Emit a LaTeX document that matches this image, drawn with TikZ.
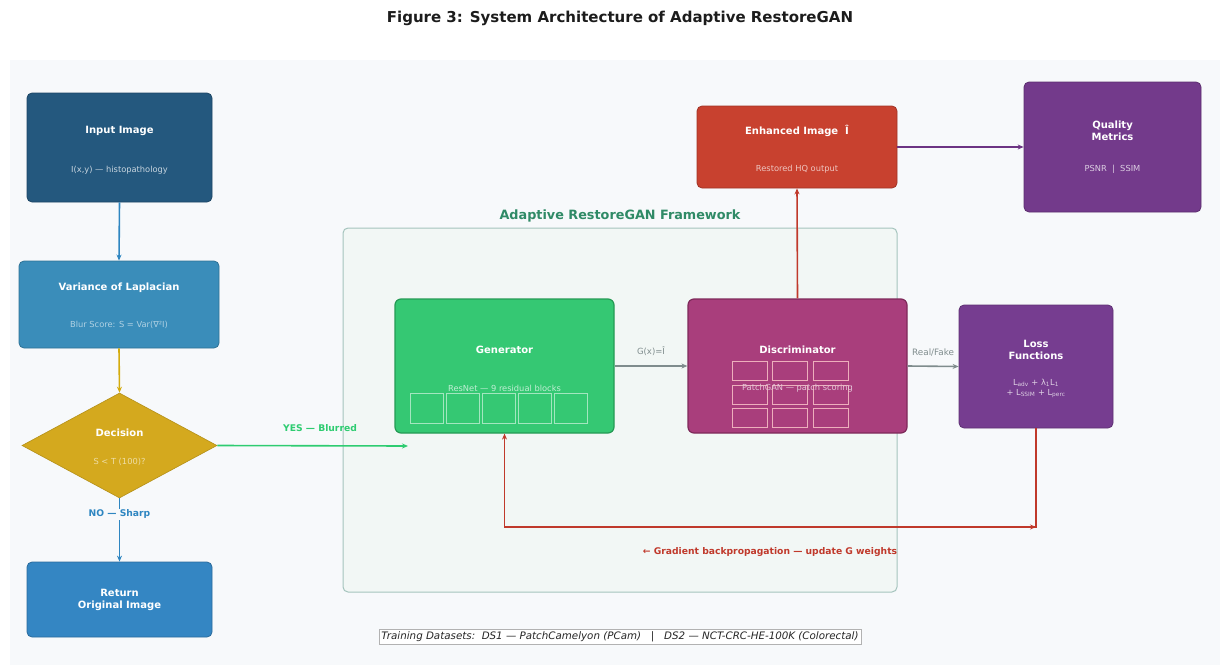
\documentclass[tikz,border=0pt]{standalone}
\usepackage{fontspec}
\setmainfont{DejaVu Sans}
\usetikzlibrary{shapes.geometric,arrows.meta}
\definecolor{bgc}{HTML}{F7F9FB}
\definecolor{inblue}{HTML}{24587E}
\definecolor{varblue}{HTML}{3A8DBA}
\definecolor{decy}{HTML}{D4A91E}
\definecolor{retblue}{HTML}{3486C3}
\definecolor{gen}{HTML}{35C873}
\definecolor{genb}{HTML}{259A55}
\definecolor{disc}{HTML}{A93E7C}
\definecolor{discb}{HTML}{7E2A5A}
\definecolor{enh}{HTML}{C8412F}
\definecolor{qual}{HTML}{733A8B}
\definecolor{loss}{HTML}{763D90}
\definecolor{fwfill}{HTML}{F2F7F5}
\definecolor{fwline}{HTML}{A5C4BD}
\definecolor{fwtext}{HTML}{2F8A66}
\definecolor{ablue}{HTML}{2E86C1}
\definecolor{ayel}{HTML}{D4AC0D}
\definecolor{agreen}{HTML}{2ECC71}
\definecolor{agray}{HTML}{7F8C8D}
\definecolor{ared}{HTML}{C0392B}
\definecolor{apurp}{HTML}{6C3483}
\definecolor{titlec}{HTML}{1C1C1C}
\tikzset{
  box/.style={draw=#1!80!black, fill=#1, rounded corners=5pt, line width=0.8pt, inner sep=0pt},
  ttl/.style={text=white, font=\bfseries\fontsize{10}{12}\selectfont, align=center},
  sub/.style={font=\fontsize{8.3}{10}\selectfont, align=center},
  conn/.style={line width=1.6pt, -{Stealth[length=6pt,width=5pt]}},
  lbl/.style={font=\bfseries\fontsize{9.2}{11}\selectfont},
  cell/.style={draw=white, draw opacity=0.55, line width=0.7pt, fill=none, inner sep=0pt}
}
\begin{document}
\begin{tikzpicture}[x=1pt,y=-1pt]
\useasboundingbox (0,0) rectangle (1222,669);
\fill[white] (0,0) rectangle (1222,669);
\node[font=\bfseries\fontsize{15}{17}\selectfont, text=titlec] (title) at (620,18) {Figure 3: System Architecture of Adaptive RestoreGAN};
\fill[bgc] (10,60) rectangle (1220,665);

% framework panel
\node[draw=fwline, fill=fwfill, rounded corners=5pt, line width=1pt, minimum width=554pt, minimum height=364pt, inner sep=0pt] (fw) at (620,410) {};
\node[font=\bfseries\fontsize{12.8}{15}\selectfont, text=fwtext] (fwl) at (620,216) {Adaptive RestoreGAN Framework};

% left column
\node[box=inblue, minimum width=185pt, minimum height=109pt] (inp) at (119.5,147.5) {};
\node[ttl] (inpt) at (119.5,131) {Input Image};
\node[sub, text=white!75!inblue] (inps) at (119.5,170) {I(x,y) — histopathology};

\node[box=varblue, minimum width=200pt, minimum height=87pt] (var) at (119,304.5) {};
\node[ttl] (vart) at (119,288) {Variance of Laplacian};
\node[sub, text=white!60!varblue] (vars) at (119,325) {Blur Score: S = Var(∇²I)};

\node[diamond, draw=decy!85!black, fill=decy, line width=0.6pt, minimum width=195pt, minimum height=105pt, inner sep=0pt] (dec) at (119.5,445.5) {};
\node[ttl] (dect) at (119.5,433) {Decision};
\node[sub, text=white!60!decy] (decs) at (119.5,462) {S < T (100)?};

\node[box=retblue, minimum width=185pt, minimum height=75pt] (ret) at (119.5,599.5) {};
\node[ttl] (rett) at (119.5,599.5) {Return\\Original Image};

% generator
\node[draw=genb, fill=gen, rounded corners=6pt, line width=1.2pt, minimum width=219pt, minimum height=134pt, inner sep=0pt] (gen) at (504.5,366) {};
\node[ttl] (gent) at (504.5,350) {Generator};
\node[sub, text=white!70!gen] (gens) at (504.5,388) {ResNet — 9 residual blocks};
\foreach \i/\x in {1/426.5,2/462.5,3/498.5,4/534.5,5/570.5}{
  \node[cell, minimum width=33pt, minimum height=30pt] (gc\i) at (\x,408) {};
}

% discriminator
\node[draw=discb, fill=disc, rounded corners=6pt, line width=1.2pt, minimum width=219pt, minimum height=134pt, inner sep=0pt] (dis) at (797.5,366) {};
\node[ttl] (dist) at (797.5,350) {Discriminator};
\foreach \r/\y in {1/370.5,2/394.5,3/417.5}{
  \foreach \c/\x in {1/749.5,2/789.5,3/831}{
    \node[cell, minimum width=35pt, minimum height=19pt, draw=pink!80!white, draw opacity=0.8] (dc\r\c) at (\x,\y) {};
  }
}
\node[sub, text=white!70!disc] (diss) at (797.5,388) {PatchGAN — patch scoring};

% enhanced
\node[box=enh, minimum width=200pt, minimum height=82pt] (enhb) at (797,147) {};
\node[ttl] (enht) at (797,131) {Enhanced Image~~Î};
\node[sub, text=white!70!enh] (enhs) at (797,169) {Restored HQ output};

% quality
\node[box=qual, minimum width=177pt, minimum height=130pt] (qm) at (1112.5,147) {};
\node[ttl] (qmt) at (1112.5,131) {Quality\\Metrics};
\node[sub, text=white!75!qual] (qms) at (1112.5,169) {PSNR~~|~~SSIM};

% loss
\node[box=loss, minimum width=154pt, minimum height=123pt] (lf) at (1036,366.5) {};
\node[ttl] (lft) at (1036,350) {Loss\\Functions};
\node[sub, text=white!75!loss] (lfs) at (1036,388) {L\textsubscript{adv} + λ\textsubscript{1}L\textsubscript{1}\\+ L\textsubscript{SSIM} + L\textsubscript{perc}};

% connectors
\draw[conn, ablue] (inp.south) -- (var.north);
\draw[conn, ayel] (var.south) -- (dec.north);
\draw[conn, ablue] (dec.south) -- node[lbl, text=ablue, fill=bgc, pos=0.25, inner sep=1pt] (nol) {NO — Sharp} (ret.north);
\coordinate (genin) at (408,446);
\draw[conn, agreen] (dec.east) -- (genin);
\node[lbl, text=agreen] (yesl) at (320,428) {YES — Blurred};
\draw[conn, agray] (gen.east) -- node[above=6pt, font=\fontsize{8.5}{10}\selectfont, text=agray] (gl) {G(x)=Î} (dis.west);
\draw[conn, agray] (dis.east) -- node[above=6pt, font=\fontsize{8.8}{10}\selectfont, text=agray] (rfl) {Real/Fake} (lf.west);
\draw[conn, ared] (dis.north) -- (enhb.south);
\draw[conn, apurp] (enhb.east) -- (qm.west);
\coordinate (lb) at (1036,527);
\coordinate (gb) at (504.5,527);
\draw[conn, ared] (lf.south) -- (lb) -- (gb) -- (gen.south);
\draw[conn, ared] (gb) -- (lb);
\node[lbl, text=ared] (bpl) at (770,552) {← Gradient backpropagation — update G weights};

% datasets
\node[draw=gray!60, fill=white, line width=0.6pt, inner sep=2.5pt, font=\itshape\fontsize{10.3}{12}\selectfont, text=gray!30!black] (ds) at (620,637) {Training Datasets:~~DS1 — PatchCamelyon (PCam)~~~|~~~DS2 — NCT-CRC-HE-100K (Colorectal)};
\end{tikzpicture}
\end{document}
